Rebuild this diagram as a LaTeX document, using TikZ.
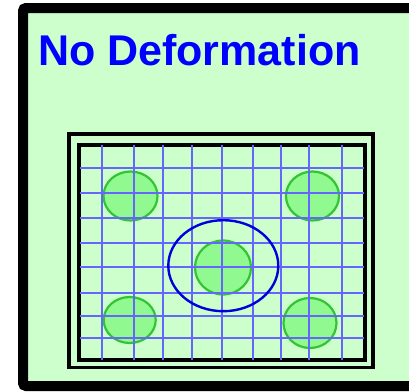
\documentclass[tikz,border=0pt]{standalone}
\usepackage{fontspec}
\setmainfont{Liberation Sans}
\usetikzlibrary{shapes.geometric}

\definecolor{paneltint}{RGB}{204,255,204}
\definecolor{gridblue}{RGB}{102,102,255}
\definecolor{spotfill}{RGB}{144,250,144}
\definecolor{spotedge}{RGB}{51,196,51}
\definecolor{zoneblue}{RGB}{0,0,220}
\definecolor{titleblue}{RGB}{0,0,255}

\begin{document}
\begin{tikzpicture}[
  x=1pt, y=-1pt,
  panel/.style={
    draw=black, line width=10pt,
    fill=paneltint, rounded corners=3pt
  },
  frameline/.style={draw=black, line width=3.2pt},
  gridline/.style={draw=gridblue, line width=2.5pt},
  spot/.style={
    ellipse, draw=spotedge, line width=2.2pt,
    fill=spotfill, inner sep=0pt
  },
  zone/.style={
    ellipse, draw=zoneblue, line width=2.4pt,
    inner sep=0pt, minimum width=110pt, minimum height=91pt
  },
  title/.style={
    font=\fontsize{43}{50}\selectfont\bfseries,
    text=titleblue, inner sep=0pt, anchor=base west
  }
]

\useasboundingbox (0,0) rectangle (409,391);
\clip (0,0) rectangle (409,391);

\draw[panel] (23,8) rectangle (432,386);

\node[title] (title) at (38,65) {No Deformation};

% specimen frame
\draw[frameline] (69,134) rectangle (373,367.5);
\draw[frameline] (79,145) rectangle (365,360);

% inclusions
\node[spot, minimum width=54pt, minimum height=49pt] (spotNW) at (130.5,196) {};
\node[spot, minimum width=53pt, minimum height=49pt] (spotNE) at (312.5,196) {};
\node[spot, minimum width=56pt, minimum height=54pt] (spotC)  at (223,267.5) {};
\node[spot, minimum width=52pt, minimum height=46pt] (spotSW) at (129.7,320) {};
\node[spot, minimum width=53pt, minimum height=50pt] (spotSE) at (310,323) {};

% mesh
\foreach \gx in {102,134,163,192,222,253,281,309,342}
  \draw[gridline] (\gx,145) -- (\gx,360);
\foreach \gy in {168,193,218,243,267,293,316,338}
  \draw[gridline] (80,\gy) -- (364,\gy);

\node[zone] (zone) at (223.3,265.7) {};

\end{tikzpicture}
\end{document}
